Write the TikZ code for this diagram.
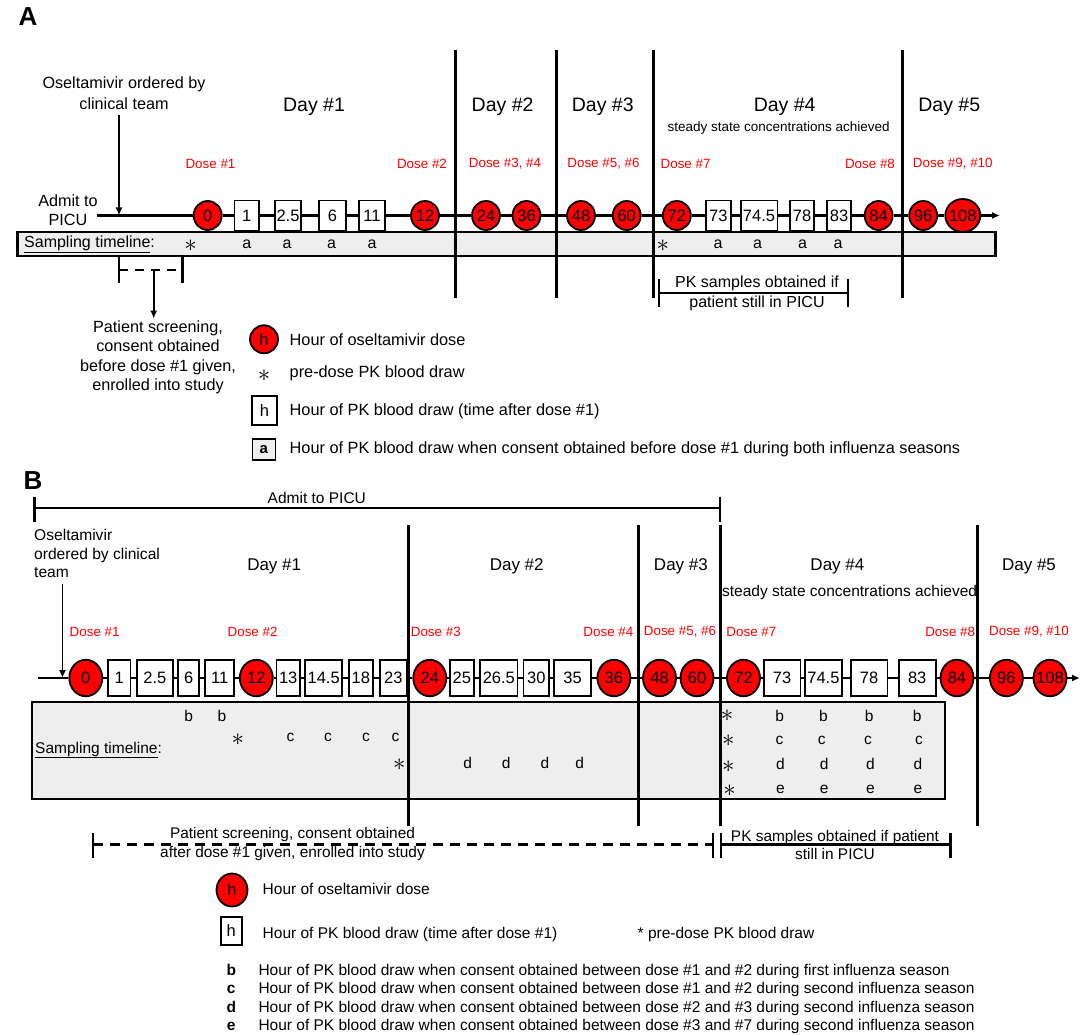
\documentclass[tikz,border=0pt]{standalone}
\usepackage{fontspec}
\setmainfont{Liberation Sans}
\usetikzlibrary{shapes.geometric,arrows.meta,calc}
\newcommand\cz[1]{\makebox[0pt]{#1}}
\newcommand\fsz[2]{\fontsize{#1}{#2}\selectfont}
\newcommand\bigast{{\fsz{23}{24}$\ast$}}
\definecolor{sampgray}{HTML}{EEEEEE}
\definecolor{dosered}{HTML}{FF0000}
\tikzset{
  dose/.style={ellipse, draw=black, fill=dosered, line width=1.8pt, inner sep=0pt, font=\fsz{16.5}{18}},
  dA/.style={dose, minimum width=28pt, minimum height=29pt},
  dB/.style={dose, minimum width=33pt, minimum height=36.5pt},
  pk/.style={rectangle, draw=black, fill=white, line width=1.8pt, inner sep=0pt, font=\fsz{16.5}{18}},
  pkA/.style={pk, minimum height=30pt, minimum width=#1},
  pkB/.style={pk, minimum height=35.5pt, minimum width=#1},
  tl/.style={line width=2.2pt},
  dayline/.style={line width=3pt},
  sampbox/.style={draw=black, fill=sampgray, line width=2.2pt},
  arr/.style={line width=1.6pt, -{Latex[length=8pt,width=7pt]}},
  txt/.style={inner sep=0pt, align=center},
  doselab/.style={txt, text=dosered, font=\fsz{13.4}{15}},
  dayA/.style={txt, font=\fsz{19.5}{22}},
  dayB/.style={txt, font=\fsz{17}{20}},
  smp/.style={inner sep=0pt, font=\fsz{16}{18}},
  smpB/.style={inner sep=0pt, font=\fsz{15.5}{18}},
}
\begin{document}
\begin{tikzpicture}[x=1pt,y=-1pt]
\useasboundingbox (0,0) rectangle (1089,1035);

% ================= PANEL A =================
\node[txt, font=\bfseries\fsz{26}{28}] (labA) at (28,17) {A};

% sampling box
\draw[sampbox] (17.5,232.3) rectangle (995.4,256);
\node[smp, anchor=west] (sampA) at (24,244) {\underline{Sampling timeline}:};
\node[smp] (sa0) at (190.5,246) {\bigast};
\node[smp] (sa9) at (662.8,246) {\bigast};
\foreach \x/\n in {246.7/1, 287/2, 331.6/3, 372/4, 718/5, 757.5/6, 802.5/7, 838/8}
  \node[smp] (sa\n) at (\x,244) {a};

% day separators
\foreach \x in {455,556.8,653.3,902.1}
  \draw[dayline] (\x,50) -- (\x,298.3);

% day labels
\node[dayA] (dA1) at (314,107) {Day \#1};
\node[dayA] (dA2) at (502.6,107) {Day \#2};
\node[dayA] (dA3) at (602.8,107) {Day \#3};
\node[dayA] (dA4) at (784.7,107) {Day \#4};
\node[dayA] (dA5) at (949.3,107) {Day \#5};
\node[txt, font=\fsz{13.5}{15}] (ssA) at (778.6,128.3) {steady state concentrations achieved};

% dose labels
\node[doselab] (dlA1) at (210.5,164) {Dose \#1};
\node[doselab] (dlA2) at (422,164) {Dose \#2};
\node[doselab] (dlA3) at (505,164) {Dose \#3, \#4};
\node[doselab] (dlA4) at (603.5,164) {Dose \#5, \#6};
\node[doselab] (dlA5) at (685.6,164) {Dose \#7};
\node[doselab] (dlA6) at (870,164) {Dose \#8};
\node[doselab] (dlA7) at (952.8,164) {Dose \#9, \#10};

% left texts
\node[txt, font=\fsz{16.2}{21}] (oseA) at (124,93.5) {Oseltamivir ordered by\\clinical team};
\node[txt, font=\fsz{16.2}{19}] (admA) at (68,210.5) {Admit to\\PICU};

% timeline A
\coordinate (aS) at (96.5,215.5);
\coordinate (aE) at (1000,215.5);
\coordinate (oseAt) at (119,215.5);
\node[dA] (A0) at (207.7,215.5) {\cz{0}};
\node[pkA=24.6pt] (A1) at (246.7,215.5) {\cz{1}};
\node[pkA=26.3pt] (A25) at (288,215.5) {\cz{2.5}};
\node[pkA=26.3pt] (A6) at (332.5,215.5) {\cz{6}};
\node[pkA=25.3pt] (A11) at (372,215.5) {\cz{11}};
\node[dA] (A12) at (425,215.5) {\cz{12}};
\node[dA] (A24) at (486,215.5) {\cz{24}};
\node[dA] (A36) at (526.5,215.5) {\cz{36}};
\node[dA] (A48) at (581,215.5) {\cz{48}};
\node[dA] (A60) at (626.7,215.5) {\cz{60}};
\node[dA] (A72) at (676.8,215.5) {\cz{72}};
\node[pkA=25.6pt] (A73) at (718.4,215.5) {\cz{73}};
\node[pkA=36.8pt] (A745) at (759,215.5) {\cz{74.5}};
\node[pkA=24.2pt] (A78) at (802,215.5) {\cz{78}};
\node[pkA=24.5pt] (A83) at (839,215.5) {\cz{83}};
\node[dA] (A84) at (878.6,215.5) {\cz{84}};
\node[dA] (A96) at (923.2,215.5) {\cz{96}};
\node[dA, minimum width=35pt, minimum height=33pt] (A108) at (962.8,215.5) {\cz{108}};
\draw[tl] (aS) -- (A0) -- (A1) -- (A25) -- (A6) -- (A11) -- (A12) -- (A24) -- (A36)
  -- (A48) -- (A60) -- (A72) -- (A73) -- (A745) -- (A78) -- (A83) -- (A84) -- (A96) -- (A108);
\draw[tl, -{Latex[length=8pt,width=7pt]}] (A108) -- (aE);
\draw[arr] ($(oseAt |- oseA.south)+(0,5)$) -- (oseAt);

% screening bracket A
\coordinate (scL) at (119.3,270);
\coordinate (scR) at (182.5,270);
\coordinate (scM) at (153.7,270);
\draw[tl] (119.3,256.7) -- (119.3,282.7);
\draw[tl] (182.5,256.7) -- (182.5,282.7);
\draw[tl, dash pattern=on 9pt off 7pt] (scL) -- (scR);
\node[txt, font=\fsz{16.2}{19.3}] (scrA) at (158,357.3) {Patient screening,\\consent obtained\\before dose \#1 given,\\enrolled into study};
\draw[arr] (scM) -- ($(scM |- scrA.north)+(0,-2)$);

% PK bracket A
\coordinate (pkAL) at (659.3,293.3);
\coordinate (pkAR) at (848,293.3);
\draw[tl] (659.3,279.3) -- (659.3,306.7);
\draw[tl] (848,279.3) -- (848,306.7);
\draw[tl] (pkAL) -- (pkAR);
\node[txt, font=\fsz{16}{20}] (pkAt) at (757,293.3) {PK samples obtained if\\patient still in PICU};

% legend A
\node[dA, minimum width=28pt, minimum height=28pt] (lgA1) at (264,339.3) {\cz{h}};
\node[txt, anchor=west, font=\fsz{16.3}{19}] (lgA1t) at (289.5,339.3) {Hour of oseltamivir dose};
\node[smp] (lgA2) at (264,376) {\bigast};
\node[txt, anchor=west, font=\fsz{16.3}{19}] (lgA2t) at (289.5,373.3) {pre-dose PK blood draw};
\node[pkA=25pt, minimum height=29pt] (lgA3) at (264.5,410.5) {\cz{h}};
\node[txt, anchor=west, font=\fsz{16.3}{19}] (lgA3t) at (289.5,411.7) {Hour of PK blood draw (time after dose \#1)};
\node[pk, fill=sampgray, line width=1.2pt, minimum width=23pt, minimum height=21pt, font=\bfseries\fsz{15}{17}] (lgA4) at (263.7,449.5) {\cz{a}};
\node[txt, anchor=west, font=\fsz{16.3}{19}] (lgA4t) at (289.5,449) {Hour of PK blood draw when consent obtained before dose \#1 during both influenza seasons};

% ================= PANEL B =================
\node[txt, font=\bfseries\fsz{26}{28}] (labB) at (33,481) {B};

% admit bracket
\coordinate (admBL) at (34.4,508.3);
\coordinate (admBR) at (720,508.3);
\draw[tl] (34.4,496.7) -- (34.4,521.7);
\draw[tl] (720,496.7) -- (720,521.7);
\draw[tl] (admBL) -- (admBR);
\node[txt, font=\fsz{15.5}{18}] (admB) at (316.8,498.3) {Admit to PICU};

% sampling box B
\draw[sampbox] (31.6,701.7) rectangle (944.6,799.3);
\node[smpB, anchor=west] (sampB) at (35,750) {\underline{Sampling timeline}:};

% day separators B
\foreach \x in {408.8,638.2,720,977.9}
  \draw[dayline] (\x,525) -- (\x,826);

% day labels B
\node[dayB] (dB1) at (274.2,566) {Day \#1};
\node[dayB] (dB2) at (516.7,566) {Day \#2};
\node[dayB] (dB3) at (680.9,566) {Day \#3};
\node[dayB] (dB4) at (837.4,566) {Day \#4};
\node[dayB] (dB5) at (1029,566) {Day \#5};
\node[txt, font=\fsz{15.5}{18}] (ssB) at (849.6,592.3) {steady state concentrations achieved};

% dose labels B
\node[doselab] (dlB1) at (94.7,631.7) {Dose \#1};
\node[doselab] (dlB2) at (252.6,631.7) {Dose \#2};
\node[doselab] (dlB3) at (435.8,631.7) {Dose \#3};
\node[doselab] (dlB4) at (608.4,631.7) {Dose \#4};
\node[doselab] (dlB5) at (680,631.7) {Dose \#5, \#6};
\node[doselab] (dlB6) at (751.4,631.7) {Dose \#7};
\node[doselab] (dlB7) at (950.2,631.7) {Dose \#8};
\node[doselab] (dlB8) at (1029,631.7) {Dose \#9, \#10};

% oseltamivir B
\node[txt, align=left, anchor=west, font=\fsz{15.6}{18.7}] (oseB) at (34,553.7) {Oseltamivir\\ordered by clinical\\team};

% timeline B
\coordinate (bS) at (37.9,678);
\coordinate (bE) at (1080,678);
\coordinate (oseBt) at (62.5,678);
\node[dB] (B0) at (85.8,678) {\cz{0}};
\node[pkB=22.8pt] (B1) at (119.1,678) {\cz{1}};
\node[pkB=36.1pt] (B25) at (154.9,678) {\cz{2.5}};
\node[pkB=20.7pt] (B6) at (188.6,678) {\cz{6}};
\node[pkB=29.1pt] (B11) at (219.8,678) {\cz{11}};
\node[dB] (B12) at (256.3,678) {\cz{12}};
\node[pkB=23.5pt] (B13) at (288.2,678) {\cz{13}};
\node[pkB=36.8pt] (B145) at (323.7,678) {\cz{14.5}};
\node[pkB=23.5pt] (B18) at (360.9,678) {\cz{18}};
\node[pkB=27.4pt] (B23) at (393.3,678) {\cz{23}};
\node[dB] (B24) at (429.8,678) {\cz{24}};
\node[pkB=23.5pt] (Bb25) at (461.9,678) {\cz{25}};
\node[pkB=37.5pt] (B265) at (498.8,678) {\cz{26.5}};
\node[pkB=25.6pt] (B30) at (536.3,678) {\cz{30}};
\node[pkB=36.8pt] (B35) at (572.5,678) {\cz{35}};
\node[dB] (B36) at (613.9,678) {\cz{36}};
\node[dB] (B48) at (659.5,678) {\cz{48}};
\node[dB] (B60) at (697,678) {\cz{60}};
\node[dB] (B72) at (743.5,678) {\cz{72}};
\node[pkB=36.8pt] (B73) at (782,678) {\cz{73}};
\node[pkB=36.8pt] (B745) at (823.4,678) {\cz{74.5}};
\node[pkB=36.8pt] (B78) at (869,678) {\cz{78}};
\node[pkB=37pt] (B83) at (917.2,678) {\cz{83}};
\node[dB] (B84) at (957,678) {\cz{84}};
\node[dB] (B96) at (1006.4,678) {\cz{96}};
\node[dB] (B108) at (1050,678) {\cz{108}};
\draw[tl] (bS) -- (B0) -- (B1) -- (B25) -- (B6) -- (B11) -- (B12) -- (B13) -- (B145) -- (B18)
  -- (B23) -- (B24) -- (Bb25) -- (B265) -- (B30) -- (B35) -- (B36) -- (B48) -- (B60) -- (B72)
  -- (B73) -- (B745) -- (B78) -- (B83) -- (B84) -- (B96) -- (B108);
\draw[tl, -{Latex[length=8pt,width=7pt]}] (B108) -- (bE);
\draw[arr] ($(oseBt |- oseB.south)+(0,6)$) -- (oseBt);

% sampling letters B
\node[smpB] (sb1) at (188.8,716) {b};
\node[smpB] (sb2) at (222,716) {b};
\node[smpB] (sbs1) at (237.9,740) {\bigast};
\foreach \x/\n in {290.5/1, 328/2, 366/3, 395.4/4}
  \node[smpB] (sc\n) at (\x,737.7) {c};
\node[smpB] (sbs2) at (399.3,765) {\bigast};
\foreach \x/\n in {467.7/1, 506.3/2, 545/3, 579.6/4}
  \node[smpB] (sd\n) at (\x,762.7) {d};
\node[smpB] (s4s1) at (727,716) {\bigast};
\node[smpB] (s4s2) at (728.4,741) {\bigast};
\node[smpB] (s4s3) at (728.4,767) {\bigast};
\node[smpB] (s4s4) at (729.5,791) {\bigast};
\foreach \x/\n in {779.6/1, 823.5/2, 869.1/3, 917.2/4}
  \node[smpB] (s4b\n) at (\x,716) {b};
\foreach \x/\n in {779.6/1, 821.8/2, 868/3, 919/4}
  \node[smpB] (s4c\n) at (\x,740) {c};
\foreach \x/\n in {780.4/1, 824.2/2, 870.5/3, 917.9/4}
  \node[smpB] (s4d\n) at (\x,764) {d};
\foreach \x/\n in {780.4/1, 824.2/2, 870.5/3, 917.9/4}
  \node[smpB] (s4e\n) at (\x,789) {e};

% screening / PK brackets B
\coordinate (scBL) at (93,844.5);
\coordinate (scBR) at (713,844.5);
\coordinate (pkBL) at (720.7,844.5);
\coordinate (pkBR) at (950.5,844.5);
\draw[tl] (93,832.7) -- (93,858.3);
\draw[tl] (713,832.7) -- (713,858.3);
\draw[tl] (720.7,832.7) -- (720.7,858.3);
\draw[tl] (950.5,832.7) -- (950.5,858.3);
\draw[tl, dash pattern=on 10pt off 7pt] (scBL) -- (scBR);
\draw[tl] (pkBL) -- (pkBR);
\node[txt, font=\fsz{15.4}{19.3}] (scrB) at (292.5,843.7) {Patient screening, consent obtained\\after dose \#1 given, enrolled into study};
\node[txt, font=\fsz{15.4}{18.6}] (pkBt) at (835,845) {PK samples obtained if patient\\still in PICU};

% legend B
\node[dose, minimum width=31pt, minimum height=33pt] (lgB1) at (232,890) {\cz{h}};
\node[txt, anchor=west, font=\fsz{15.5}{18}] (lgB1t) at (262.5,889.3) {Hour of oseltamivir dose};
\node[pk, minimum width=21pt, minimum height=28pt] (lgB2) at (231.3,931) {\cz{h}};
\node[txt, anchor=west, font=\fsz{15.5}{18}] (lgB2t) at (262.5,934) {Hour of PK blood draw (time after dose \#1)};
\node[txt, anchor=west, font=\fsz{15.5}{18}] (lgB3t) at (637.5,934) {* pre-dose PK blood draw};
\node[txt, anchor=base, font=\bfseries\fsz{15.5}{18}] (lgBb) at (231.3,975.5) {b};
\node[txt, anchor=base west, font=\fsz{15.5}{18}] (lgBbt) at (258.3,975.5) {Hour of PK blood draw when consent obtained between dose \#1 and \#2 during first influenza season};
\node[txt, anchor=base, font=\bfseries\fsz{15.5}{18}] (lgBc) at (231.3,993.8) {c};
\node[txt, anchor=base west, font=\fsz{15.5}{18}] (lgBct) at (258.3,993.8) {Hour of PK blood draw when consent obtained between dose \#1 and \#2 during second influenza season};
\node[txt, anchor=base, font=\bfseries\fsz{15.5}{18}] (lgBd) at (231.3,1012.2) {d};
\node[txt, anchor=base west, font=\fsz{15.5}{18}] (lgBdt) at (258.3,1012.2) {Hour of PK blood draw when consent obtained between dose \#2 and \#3 during second influenza season};
\node[txt, anchor=base, font=\bfseries\fsz{15.5}{18}] (lgBe) at (231.3,1030.3) {e};
\node[txt, anchor=base west, font=\fsz{15.5}{18}] (lgBet) at (258.3,1030.3) {Hour of PK blood draw when consent obtained between dose \#3 and \#7 during second influenza season};
\end{tikzpicture}
\end{document}
